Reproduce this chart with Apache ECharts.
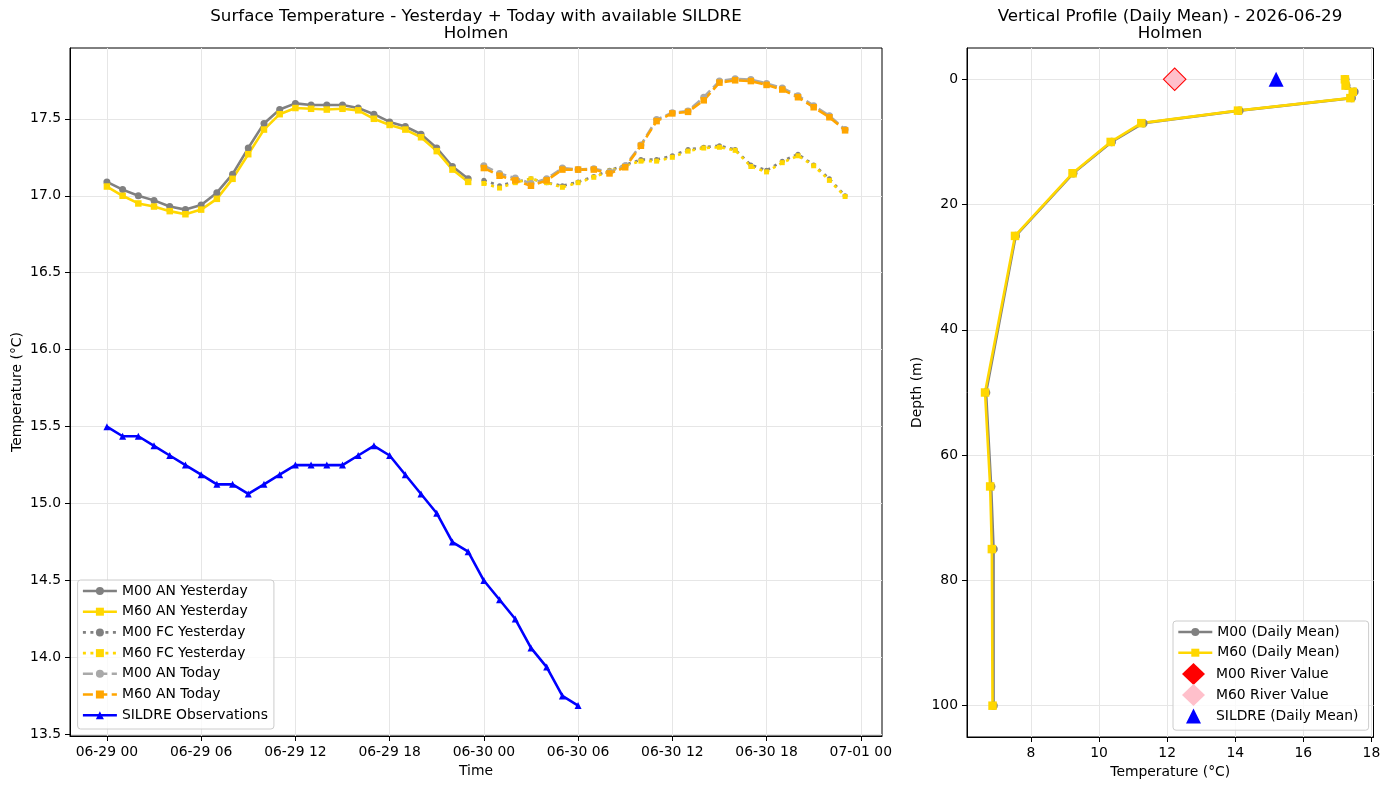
<!DOCTYPE html>
<html>
<head>
<meta charset="utf-8">
<title>Holmen temperature</title>
<script src="https://cdn.jsdelivr.net/npm/echarts@6/dist/echarts.min.js"></script>
<style>
  html, body { margin: 0; padding: 0; background: #fff; }
  #chart { width: 1389px; height: 790px; }
</style>
</head>
<body>
<div id="chart"></div>
<script>
// hours since 06-29 00
const hoursYesterday = [0, 1, 2, 3, 4, 5, 6, 7, 8, 9, 10, 11, 12, 13, 14, 15, 16, 17, 18, 19, 20, 21, 22, 23];
const hoursToday = [24, 25, 26, 27, 28, 29, 30, 31, 32, 33, 34, 35, 36, 37, 38, 39, 40, 41, 42, 43, 44, 45, 46, 47];
const hoursSildre = [0, 1, 2, 3, 4, 5, 6, 7, 8, 9, 10, 11, 12, 13, 14, 15, 16, 17, 18, 19, 20, 21, 22, 23, 24, 25, 26, 27, 28, 29, 30];

const m00AnYesterday = [17.09, 17.04, 17.00, 16.97, 16.93, 16.91, 16.94, 17.02, 17.14, 17.31, 17.47, 17.56, 17.60, 17.59, 17.59, 17.59, 17.57, 17.53, 17.48, 17.45, 17.40, 17.31, 17.19, 17.11];
const m60AnYesterday = [17.06, 17.00, 16.95, 16.93, 16.90, 16.88, 16.91, 16.98, 17.11, 17.27, 17.43, 17.53, 17.57, 17.565, 17.56, 17.565, 17.555, 17.50, 17.46, 17.43, 17.38, 17.29, 17.17, 17.09];
const m00FcYesterday = [17.10, 17.065, 17.09, 17.11, 17.085, 17.065, 17.09, 17.125, 17.165, 17.20, 17.235, 17.235, 17.26, 17.30, 17.315, 17.325, 17.30, 17.20, 17.165, 17.225, 17.27, 17.20, 17.11, 17.00];
const m60FcYesterday = [17.08, 17.05, 17.085, 17.11, 17.085, 17.055, 17.085, 17.12, 17.16, 17.195, 17.225, 17.225, 17.25, 17.29, 17.31, 17.315, 17.295, 17.19, 17.155, 17.215, 17.26, 17.195, 17.10, 16.995];
const m00AnToday = [17.195, 17.145, 17.115, 17.08, 17.11, 17.18, 17.17, 17.175, 17.155, 17.195, 17.33, 17.495, 17.54, 17.55, 17.64, 17.745, 17.76, 17.755, 17.73, 17.70, 17.65, 17.585, 17.52, 17.43];
const m60AnToday = [17.18, 17.13, 17.10, 17.065, 17.10, 17.17, 17.17, 17.17, 17.145, 17.185, 17.325, 17.485, 17.535, 17.545, 17.62, 17.735, 17.75, 17.745, 17.72, 17.69, 17.64, 17.575, 17.51, 17.425];
const sildreObs = [15.5, 15.4375, 15.4375, 15.375, 15.3125, 15.25, 15.1875, 15.125, 15.125, 15.0625, 15.125, 15.1875, 15.25, 15.25, 15.25, 15.25, 15.3125, 15.375, 15.3125, 15.1875, 15.0625, 14.9375, 14.75, 14.6875, 14.5, 14.375, 14.25, 14.0625, 13.9375, 13.75, 13.6875];

const timeTicks = [0, 6, 12, 18, 24, 30, 36, 42, 48];
const timeTickLabels = ['06-29 00', '06-29 06', '06-29 12', '06-29 18', '06-30 00', '06-30 06', '06-30 12', '06-30 18', '07-01 00'];
const tempTicks = [13.5, 14.0, 14.5, 15.0, 15.5, 16.0, 16.5, 17.0, 17.5];

// vertical profile
const depths = [0, 1, 2, 3, 5, 7, 10, 15, 25, 50, 65, 75, 100];
const m00Profile = [17.23, 17.26, 17.50, 17.42, 14.12, 11.30, 10.37, 9.24, 7.55, 6.68, 6.83, 6.90, 6.90];
const m60Profile = [17.22, 17.24, 17.45, 17.38, 14.08, 11.24, 10.34, 9.22, 7.53, 6.65, 6.80, 6.85, 6.87];
const riverM00 = [12.22];
const riverM60 = [12.22];
const sildreMean = [15.2];
const surfaceDepth = [0];
const profileTempTicks = [8, 10, 12, 14, 16, 18];
const depthTicks = [0, 20, 40, 60, 80, 100];

const FONT = 'DejaVu Sans';
const zip = (xs, ys) => xs.map((x, i) => [x, ys[i]]);

const gridLine = {show: true, lineStyle: {color: '#e6e6e6', width: 1}};
const axisLine = {show: true, onZero: false, lineStyle: {color: '#000', width: 1}};
const nameStyle = {fontFamily: FONT, fontSize: 13.9, color: '#000'};
const labelStyle = {fontFamily: FONT, fontSize: 13.9, color: '#000', margin: 9};
const legendText = {fontFamily: FONT, fontSize: 13.9, color: '#000', lineHeight: 15};

function lineSeries(name, xs, ys, color, dash, symbol, size, axis) {
    return {
        type: 'line', name: name,
        xAxisIndex: axis, yAxisIndex: axis,
        data: zip(xs, ys),
        showSymbol: true, showAllSymbol: true,
        symbol: symbol, symbolSize: size,
        itemStyle: {color: color},
        lineStyle: {color: color, width: 2.6, type: dash, cap: 'butt'},
        emphasis: {disabled: true}, silent: true
    };
}
function pointSeries(name, xs, ys, color, symbol, size, border) {
    return {
        type: 'scatter', name: name,
        xAxisIndex: 1, yAxisIndex: 1,
        data: zip(xs, ys),
        symbol: symbol, symbolSize: size,
        itemStyle: {color: color, borderColor: border || color, borderWidth: border ? 1.5 : 0, opacity: 1},
        emphasis: {disabled: true}, silent: true
    };
}

const DOT = [3, 4.5];
const DASH = [10, 4.4];

const chart = echarts.init(document.getElementById('chart'), null, {renderer: 'canvas'});
chart.setOption({
    animation: false,
    backgroundColor: '#fff',
    textStyle: {fontFamily: FONT},
    title: [
        {text: 'Surface Temperature - Yesterday + Today with available SILDRE\nHolmen', left: 476, top: 8, padding: 0, textAlign: 'center',
         textStyle: {fontFamily: FONT, fontSize: 16.7, fontWeight: 'normal', color: '#000', lineHeight: 17}},
        {text: 'Vertical Profile (Daily Mean) - 2026-06-29\nHolmen', left: 1170, top: 8, padding: 0, textAlign: 'center',
         textStyle: {fontFamily: FONT, fontSize: 16.7, fontWeight: 'normal', color: '#000', lineHeight: 17}}
    ],
    grid: [
        {left: 70, top: 48, width: 812, height: 688, show: true, borderColor: '#000', borderWidth: 1, backgroundColor: 'transparent', outerBoundsMode: 'none', containLabel: false},
        {left: 967, top: 48, width: 406.5, height: 689, show: true, borderColor: '#000', borderWidth: 1, backgroundColor: 'transparent', outerBoundsMode: 'none', containLabel: false}
    ],
    xAxis: [
        {type: 'value', gridIndex: 0, min: -2.35, max: 49.35,
         name: 'Time', nameLocation: 'middle', nameGap: 28, nameTextStyle: nameStyle, nameMoveOverlap: false,
         axisLine: axisLine,
         axisTick: {show: true, length: 5, customValues: timeTicks, lineStyle: {color: '#000'}},
         axisLabel: Object.assign({customValues: timeTicks, formatter: v => timeTickLabels[timeTicks.indexOf(v)]}, labelStyle),
         splitLine: gridLine},
        {type: 'value', gridIndex: 1, min: 6.12, max: 18.06,
         name: 'Temperature (°C)', nameLocation: 'middle', nameGap: 28, nameTextStyle: nameStyle, nameMoveOverlap: false,
         axisLine: axisLine,
         axisTick: {show: true, length: 5, customValues: profileTempTicks, lineStyle: {color: '#000'}},
         axisLabel: Object.assign({customValues: profileTempTicks, formatter: v => String(v)}, labelStyle),
         splitLine: gridLine}
    ],
    yAxis: [
        {type: 'value', gridIndex: 0, min: 13.49, max: 17.96,
         name: 'Temperature (°C)', nameLocation: 'middle', nameGap: 46, nameTextStyle: nameStyle, nameMoveOverlap: false,
         axisLine: axisLine,
         axisTick: {show: true, length: 5, customValues: tempTicks, lineStyle: {color: '#000'}},
         axisLabel: Object.assign({customValues: tempTicks, formatter: v => v.toFixed(1)}, labelStyle),
         splitLine: gridLine},
        {type: 'value', gridIndex: 1, min: -5, max: 105, inverse: true,
         name: 'Depth (m)', nameLocation: 'middle', nameGap: 43, nameTextStyle: nameStyle, nameMoveOverlap: false,
         axisLine: axisLine,
         axisTick: {show: true, length: 5, customValues: depthTicks, lineStyle: {color: '#000'}},
         axisLabel: Object.assign({customValues: depthTicks, formatter: v => String(v)}, labelStyle),
         splitLine: gridLine}
    ],
    legend: [
        {orient: 'vertical', left: 77.6, top: 580, padding: [3.5, 6, 6.3, 4],
         itemWidth: 34, itemHeight: 10, itemGap: 5.7, selectedMode: false,
         lineStyle: {width: 2.6},
         backgroundColor: 'rgba(255,255,255,0.8)', borderColor: '#cccccc', borderWidth: 1, borderRadius: 3,
         textStyle: legendText,
         data: ['M00 AN Yesterday', 'M60 AN Yesterday', 'M00 FC Yesterday', 'M60 FC Yesterday', 'M00 AN Today', 'M60 AN Today', 'SILDRE Observations']},
        // box of the profile legend; its padding makes room for the marker rows below
        {orient: 'vertical', left: 1173, top: 621, padding: [3.5, 29, 70, 4],
         itemWidth: 34, itemHeight: 10, itemGap: 5.7, selectedMode: false,
         lineStyle: {width: 2.6},
         backgroundColor: 'rgba(255,255,255,0.8)', borderColor: '#cccccc', borderWidth: 1, borderRadius: 3,
         textStyle: legendText,
         data: ['M00 (Daily Mean)', 'M60 (Daily Mean)']},
        {orient: 'vertical', left: 1182, top: 663, padding: 0,
         itemWidth: 23, itemHeight: 22, itemGap: -1, selectedMode: false, symbolKeepAspect: true,
         textStyle: Object.assign({padding: [0, 0, 0, 6]}, legendText),
         data: ['M00 River Value', 'M60 River Value']},
        {orient: 'vertical', left: 1186, top: 708.5, padding: 0,
         itemWidth: 15, itemHeight: 15, itemGap: 0, selectedMode: false, symbolKeepAspect: true,
         textStyle: Object.assign({padding: [0, 0, 0, 10]}, legendText),
         data: ['SILDRE (Daily Mean)']}
    ],
    series: [
        lineSeries('M00 AN Yesterday', hoursYesterday, m00AnYesterday, '#808080', 'solid', 'circle', 7, 0),
        lineSeries('M60 AN Yesterday', hoursYesterday, m60AnYesterday, '#FFD700', 'solid', 'rect', 6.5, 0),
        lineSeries('M00 FC Yesterday', hoursToday, m00FcYesterday, '#808080', DOT, 'circle', 5, 0),
        lineSeries('M60 FC Yesterday', hoursToday, m60FcYesterday, '#FFD700', DOT, 'rect', 5, 0),
        lineSeries('M00 AN Today', hoursToday, m00AnToday, '#A9A9A9', DASH, 'circle', 7, 0),
        lineSeries('M60 AN Today', hoursToday, m60AnToday, '#FFA500', DASH, 'rect', 6.5, 0),
        lineSeries('SILDRE Observations', hoursSildre, sildreObs, '#0000FF', 'solid', 'triangle', 7, 0),

        lineSeries('M00 (Daily Mean)', m00Profile, depths, '#808080', 'solid', 'circle', 8.5, 1),
        lineSeries('M60 (Daily Mean)', m60Profile, depths, '#FFD700', 'solid', 'rect', 8.5, 1),
        pointSeries('M00 River Value', riverM00, surfaceDepth, '#FF0000', 'diamond', 24),
        pointSeries('M60 River Value', riverM60, surfaceDepth, '#FFC0CB', 'diamond', 21),
        pointSeries('SILDRE (Daily Mean)', sildreMean, surfaceDepth, '#0000FF', 'triangle', 15)
    ]
});
</script>
</body>
</html>
